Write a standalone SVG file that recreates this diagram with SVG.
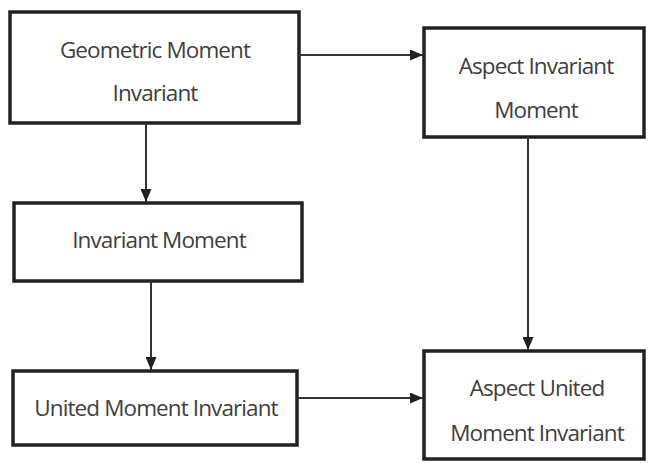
<svg xmlns="http://www.w3.org/2000/svg" width="649" height="463" viewBox="0 0 649 463">
<style>
.box{fill:#fff;stroke:#222;stroke-width:3.5}
.t{font-family:"Open Sans","DejaVu Sans",sans-serif;font-size:22.5px;fill:#404040;text-anchor:middle;letter-spacing:-0.9px}
.c{stroke:#333;stroke-width:2;fill:none;marker-end:url(#ah)}
</style>
<defs>
<marker id="ah" markerWidth="13" markerHeight="11" refX="13" refY="5.5" orient="auto" markerUnits="userSpaceOnUse">
<path d="M0,0 L13,5.5 L0,11 Z" fill="#222"/>
</marker>
</defs>
<rect width="649" height="463" fill="#fff"/>
<g id="n1"><rect class="box" x="10" y="12" width="289" height="111"/>
<text class="t" x="155" y="58">Geometric Moment</text><text class="t" x="155" y="101">Invariant</text></g>
<g id="n2"><rect class="box" x="424" y="28" width="220" height="109"/>
<text class="t" x="536" y="74">Aspect Invariant</text><text class="t" x="536" y="118">Moment</text></g>
<g id="n3"><rect class="box" x="14" y="203" width="288" height="78"/>
<text class="t" x="159" y="248">Invariant Moment</text></g>
<g id="n4"><rect class="box" x="13" y="371" width="284" height="74"/>
<text class="t" x="156" y="416">United Moment Invariant</text></g>
<g id="n5"><rect class="box" x="424" y="351" width="220" height="108"/>
<text class="t" x="537" y="396">Aspect United</text><text class="t" x="537" y="441">Moment Invariant</text></g>
<g id="connectors">
<line class="c" x1="299" y1="55" x2="423" y2="55"/>
<line class="c" x1="146" y1="123" x2="146" y2="202"/>
<line class="c" x1="151" y1="281" x2="151" y2="370"/>
<line class="c" x1="528" y1="137" x2="528" y2="350"/>
<line class="c" x1="297" y1="398" x2="423" y2="398"/>
</g>
</svg>
